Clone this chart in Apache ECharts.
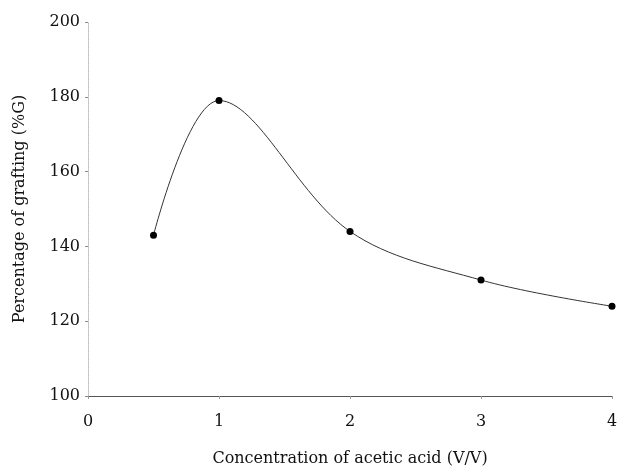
<!DOCTYPE html>
<html>
<head>
<meta charset="utf-8">
<script src="https://cdn.jsdelivr.net/npm/echarts@6/dist/echarts.min.js"></script>
<style>
  html, body { margin: 0; padding: 0; background: #fff; }
  #chart { width: 626px; height: 466px; }
</style>
</head>
<body>
<div id="chart"></div>
<script>
var concentration = [0.5, 1, 2, 3, 4];
var grafting = [143, 179, 144, 131, 124];
var xTicks = [0, 1, 2, 3, 4];
var yTicks = [100, 120, 140, 160, 180, 200];

var chart = echarts.init(document.getElementById('chart'));
var font = '"DejaVu Serif", "Liberation Serif", serif';

var option = {
  animation: false,
  grid: {
    left: 88,
    right: 14,
    top: 22,
    bottom: 70,
    outerBoundsMode: 'none'
  },
  xAxis: {
    type: 'value',
    min: xTicks[0],
    max: xTicks[xTicks.length - 1],
    interval: 1,
    name: 'Concentration of acetic acid (V/V)',
    nameLocation: 'middle',
    nameGap: 55,
    nameTextStyle: { fontFamily: font, fontSize: 16, color: '#111' },
    axisLine: { lineStyle: { color: '#555', width: 1 } },
    axisTick: { show: true, length: 3, lineStyle: { color: '#999' } },
    axisLabel: { fontFamily: font, fontSize: 16, color: '#111', margin: 18 },
    splitLine: { show: false }
  },
  yAxis: {
    type: 'value',
    min: yTicks[0],
    max: yTicks[yTicks.length - 1],
    interval: 20,
    name: 'Percentage of grafting (%G)',
    nameLocation: 'middle',
    nameGap: 60,
    nameTextStyle: { fontFamily: font, fontSize: 16, color: '#111' },
    axisLine: { show: true, lineStyle: { color: '#bbb', width: 1, type: 'dotted' } },
    axisTick: { show: true, length: 3, lineStyle: { color: '#888' } },
    axisLabel: { fontFamily: font, fontSize: 16, color: '#111', margin: 8 },
    splitLine: { show: false }
  },
  series: [
    {
      type: 'line',
      data: concentration.map(function (x, i) { return [x, grafting[i]]; }),
      smooth: 0.35,
      symbol: 'circle',
      symbolSize: 7,
      itemStyle: { color: '#000' },
      lineStyle: { color: '#333', width: 1 }
    }
  ]
};

chart.setOption(option);
</script>
</body>
</html>
